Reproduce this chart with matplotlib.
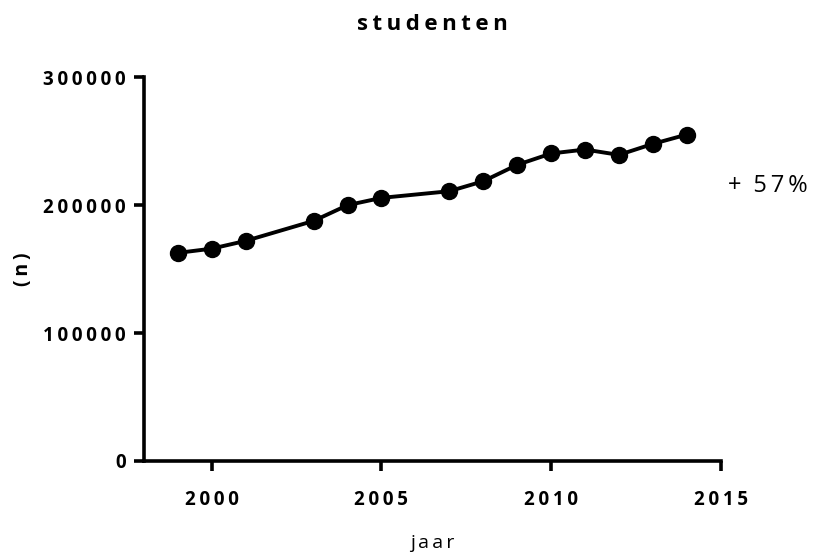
"""Studenten per jaar, Prism-style line plot."""

import matplotlib

matplotlib.use("Agg")
import matplotlib.pyplot as plt
from matplotlib.ticker import FixedLocator, FixedFormatter

plt.rcParams["font.family"] = ["Open Sans", "DejaVu Sans"]

# data
years = [1999, 2000, 2001, 2003, 2004, 2005, 2007, 2008, 2009, 2010, 2011, 2012, 2013, 2014]
students = [162700, 166000, 172100, 187700, 200000, 205700, 210900, 218700,
            231500, 240400, 243500, 239300, 247900, 255200]

x_ticks = [2000, 2005, 2010, 2015]
y_ticks = [0, 100000, 200000, 300000]

THIN = "\u2009"


def spaced(text):
    # the reference uses wide letter spacing
    return THIN.join(text)


fig = plt.figure(figsize=(8.14, 5.57), dpi=100)
ax = fig.add_axes([0.1769, 0.1724, 0.7085, 0.6889])

ax.plot(years, students, color="black", linewidth=2.8, marker="o",
        markersize=11.5, clip_on=False, zorder=3)

ax.set_xlim(1998, 2015)
ax.set_ylim(0, 300000)

ax.xaxis.set_major_locator(FixedLocator(x_ticks))
ax.xaxis.set_major_formatter(FixedFormatter([spaced(str(t)) for t in x_ticks]))
ax.yaxis.set_major_locator(FixedLocator(y_ticks))
ax.yaxis.set_major_formatter(FixedFormatter([spaced(str(t)) for t in y_ticks]))

for side in ("top", "right"):
    ax.spines[side].set_visible(False)
for side in ("left", "bottom"):
    ax.spines[side].set_linewidth(2.6)

ax.tick_params(axis="both", direction="out", length=7, width=2.6, labelsize=13.5)
ax.tick_params(axis="x", pad=14)
ax.tick_params(axis="y", pad=6)
for lbl in ax.get_xticklabels() + ax.get_yticklabels():
    lbl.set_fontweight("bold")

ax.set_title(spaced("studenten"), fontsize=16, fontweight="bold", pad=34)
ax.set_ylabel(spaced("(n)"), fontsize=14, fontweight="bold")
ax.yaxis.set_label_coords(-0.193, 0.5)
ax.set_xlabel(spaced("jaar"), fontsize=14)
ax.xaxis.set_label_coords(0.5, -0.19)

ax.text(1.013, 0.717, "+\u2002" + spaced("57%"), transform=ax.transAxes,
        fontsize=17, ha="left", va="center")

fig.savefig("out.png", dpi=100)
